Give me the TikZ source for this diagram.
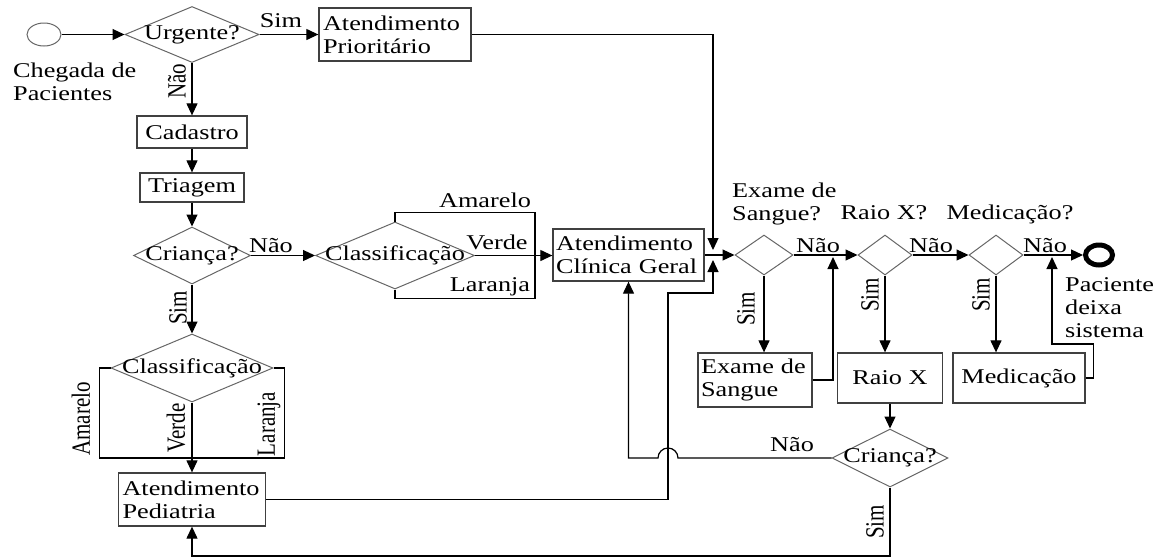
\documentclass[tikz,border=0pt]{standalone}
\usepackage{fontspec}
\setmainfont{Liberation Serif}[FakeStretch=1.25]
\newfontfamily\rotf{Liberation Serif}
\usetikzlibrary{arrows.meta,shapes.geometric}
\newcommand\fsz{\fontsize{21}{23}\selectfont}
\tikzset{
  box/.style={draw=black!75,line width=1.3pt,inner sep=0pt,font=\fsz},
  dia/.style={diamond,draw=black!60,line width=1pt,inner sep=0pt},
  dlbl/.style={font=\fsz,inner sep=0pt},
  lbl/.style={inner sep=0pt,font=\fsz,anchor=base},
  rlbl/.style={inner sep=0pt,font=\rotf\fsz,xscale=1.25,rotate=90},
  arr/.style={-{Triangle[length=12pt,width=11pt]}},
  ln/.style={draw=black,line width=1.2pt},
  startc/.style={ellipse,draw=black!60,line width=1pt,minimum width=34pt,minimum height=23pt,inner sep=0pt},
  endc/.style={ellipse,draw=black,line width=5pt,minimum width=27pt,minimum height=20pt,inner sep=0pt},
}
\begin{document}
\begin{tikzpicture}[x=1pt,y=-1pt]
\useasboundingbox (0,0) rectangle (1161,558);
% ---- nodes
\node[startc] (start) at (44,34.5) {};
\node[lbl,anchor=north west,align=left] (chg) at (13,62.5) {Chegada de\\Pacientes};
\node[dia,minimum width=134pt,minimum height=56pt,label={[dlbl]center:Urgente?}] (urg) at (192,34.5) {};
\node[box,minimum width=152pt,minimum height=53pt,text width=144pt,inner xsep=4pt,align=left] (prio) at (395,34.5) {\mbox{Atendimento}\\\mbox{Prioritário}};
\node[box,minimum width=110pt,minimum height=32pt] (cad) at (192,132) {Cadastro};
\node[box,minimum width=104pt,minimum height=29pt] (tri) at (192,187.5) {Triagem};
\node[dia,minimum width=117pt,minimum height=57pt,label={[dlbl]center:Criança?}] (cri1) at (192,255.5) {};
\node[dia,minimum width=159pt,minimum height=67pt,label={[dlbl]center:Classificação}] (cls1) at (395,255.5) {};
\node[box,minimum width=151pt,minimum height=52pt,text width=145pt,inner xsep=3pt,align=left] (clin) at (628.5,255) {\mbox{Atendimento}\\\mbox{Clínica Geral}};
\node[dia,minimum width=162pt,minimum height=68pt,label={[dlbl]center:Classificação}] (cls2) at (192,368) {};
\node[box,minimum width=147pt,minimum height=53pt,text width=139pt,inner xsep=4pt,align=left] (ped) at (192,499.5) {\mbox{Atendimento}\\\mbox{Pediatria}};
\node[dia,minimum width=58pt,minimum height=40pt] (exq) at (764,255) {};
\node[dia,minimum width=54pt,minimum height=40pt] (rxq) at (885,255) {};
\node[dia,minimum width=54pt,minimum height=40pt] (medq) at (996,255) {};
\node[endc] (end) at (1099,255) {};
\node[box,minimum width=114pt,minimum height=54pt,text width=108pt,inner xsep=3pt,align=left] (exbox) at (755,380) {\mbox{Exame de}\\\mbox{Sangue}};
\node[box,minimum width=105pt,minimum height=50pt] (rxbox) at (890,378) {Raio X};
\node[box,minimum width=132pt,minimum height=50pt] (medbox) at (1019,378) {Medicação};
\node[dia,minimum width=116pt,minimum height=58pt,label={[dlbl]center:Criança?}] (cri2) at (890,458) {};
% ---- labels
\node[lbl] (l1) at (281,27) {Sim};
\node[rlbl] (l2) at (177,81) {Não};
\node[lbl] (l3) at (271,252) {Não};
\node[rlbl] (l4) at (178,308) {Sim};
\node[lbl] (l5) at (485,207) {Amarelo};
\node[lbl] (l6) at (497,249) {Verde};
\node[lbl] (l7) at (490,291) {Laranja};
\node[rlbl] (l8) at (81,419) {Amarelo};
\node[rlbl] (l9) at (176,428) {Verde};
\node[rlbl] (l10) at (269,424) {Laranja};
\node[lbl,anchor=north west,align=left] (l11) at (732,182.5) {Exame de\\Sangue?};
\node[lbl] (l12) at (884,219) {Raio X?};
\node[lbl] (l13) at (1010,219) {Medicação?};
\node[lbl] (l14) at (818,252) {Não};
\node[lbl] (l15) at (931,252) {Não};
\node[lbl] (l16) at (1045,252) {Não};
\node[rlbl] (l17) at (746,309) {Sim};
\node[rlbl] (l18) at (870,295) {Sim};
\node[rlbl] (l19) at (981,295) {Sim};
\node[lbl,anchor=north west,align=left] (l20) at (1065,277.5) {Paciente\\deixa\\sistema};
\node[lbl] (l21) at (792,451) {Não};
\node[rlbl] (l22) at (875,522) {Sim};
% ---- helper coordinates
\coordinate (vj) at (535,255.5);
\coordinate (vj2) at (192,458);
\coordinate (jt) at (713,250);
\coordinate (jb) at (713,260);
\coordinate (pj) at (668,293);
\coordinate (ej) at (833,257);
\coordinate (mj) at (1052,257);
\coordinate (bj) at (890,556);
\coordinate (jmp) at (678,458);
% ---- connectors
\draw[ln,arr] (start.east) -- (urg.west);
\draw[ln,arr] (urg.east) -- (prio.west);
\draw[ln,arr] (urg.south) -- (cad.north);
\draw[ln,arr] (cad.south) -- (tri.north);
\draw[ln,arr] (tri.south) -- (cri1.north);
\draw[ln,arr] (cri1.east) -- (cls1.west);
\draw[ln,arr] (cri1.south) -- (cls2.north);
\draw[ln] (cls1.north) -- ++(0,-9) -| (vj);
\draw[ln] (cls1.south) -- ++(0,9) -| (vj);
\draw[ln,arr] (cls1.east) -- (clin.west |- cls1.east);
\draw[ln] (cls2.west) -- ++(-11,0) |- (vj2);
\draw[ln] (cls2.east) -- ++(11,0) |- (vj2);
\draw[ln,arr] (cls2.south) -- (ped.north);
\draw[ln,arr] (prio.east) -| (jt);
\draw[ln,arr] (ped.east) -| (pj) -| (jb);
\draw[ln,arr] (clin.east) -- (exq.west);
\draw[ln,arr] (exq.east) -- (rxq.west);
\draw[ln,arr] (rxq.east) -- (medq.west);
\draw[ln,arr] (medq.east) -- (end.west);
\draw[ln,arr] (exq.south) -- (exq.south |- exbox.north);
\draw[ln,arr] (rxq.south) -- (rxq.south |- rxbox.north);
\draw[ln,arr] (medq.south) -- (medq.south |- medbox.north);
\draw[ln,arr] (exbox.east) -| (ej);
\draw[ln,arr] (medbox.east) -- ++(8,0) -- ++(0,-34) -| (mj);
\draw[ln,arr] (rxbox.south) -- (cri2.north);
\draw[ln,arr] (cri2.west) -- (jmp) arc[start angle=0,end angle=-180,radius=10] -| (clin.south);
\draw[ln,arr] (cri2.south) -- (bj) -| (ped.south);
\end{tikzpicture}
\end{document}
